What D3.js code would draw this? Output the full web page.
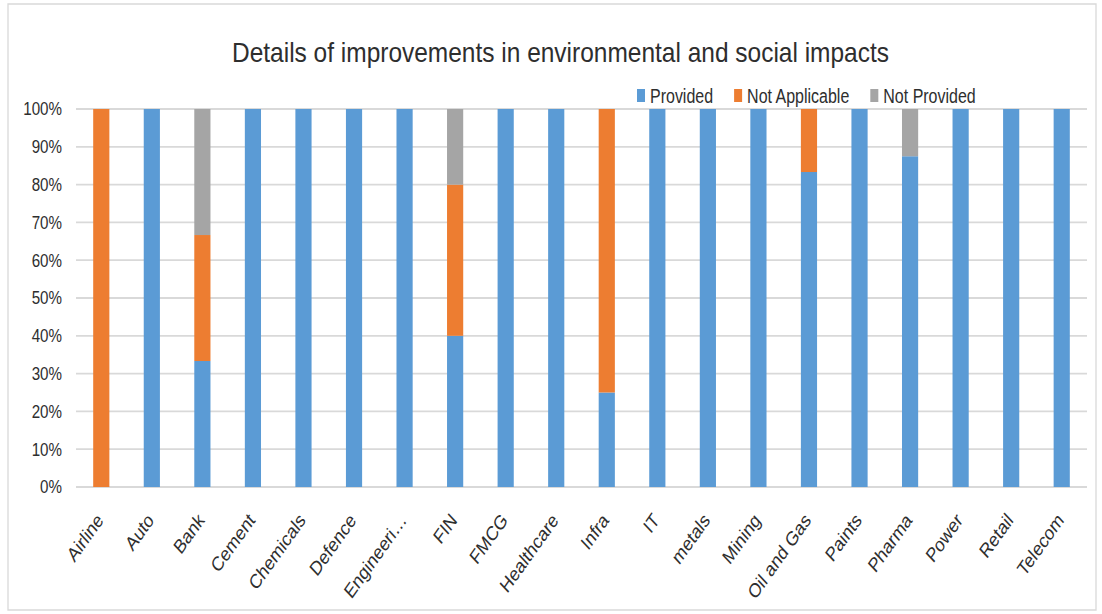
<!DOCTYPE html>
<html>
<head>
<meta charset="utf-8">
<script src="https://cdn.jsdelivr.net/npm/d3@7"></script>
<style>
  body { margin: 0; background: #fff; }
  svg text { font-family: "Liberation Sans", Arial, sans-serif; fill: #2e2e2e; }
</style>
</head>
<body>
<svg id="chart" width="1102" height="614"></svg>
<script>
// Sectors and the share of companies in each reporting status (percent)
const categories = ["Airline", "Auto", "Bank", "Cement", "Chemicals", "Defence", "Engineeri…", "FIN", "FMCG", "Healthcare",
                    "Infra", "IT", "metals", "Mining", "Oil and Gas", "Paints", "Pharma", "Power", "Retail", "Telecom"];
const provided      = [0, 100, 33.33, 100, 100, 100, 100, 40, 100, 100, 25, 100, 100, 100, 83.33, 100, 87.5, 100, 100, 100];
const notApplicable = [100, 0, 33.33, 0, 0, 0, 0, 40, 0, 0, 75, 0, 0, 0, 16.67, 0, 0, 0, 0, 0];
const notProvided   = [0, 0, 33.34, 0, 0, 0, 0, 20, 0, 0, 0, 0, 0, 0, 0, 0, 12.5, 0, 0, 0];
const seriesNames   = ["Provided", "Not Applicable", "Not Provided"];
const seriesColors  = ["#5b9bd5", "#ed7d31", "#a5a5a5"];
const yTickValues   = [0, 10, 20, 30, 40, 50, 60, 70, 80, 90, 100];
const yTickLabels   = ["0%", "10%", "20%", "30%", "40%", "50%", "60%", "70%", "80%", "90%", "100%"];
const titleText     = "Details of improvements in environmental and social impacts";

// The whole drawing is laid out in a wider space and squeezed horizontally,
// giving the narrow letterforms of the chart's typeface.
const K = 0.82;
const sx = v => v / K;

const svg = d3.select("#chart");
const root = svg.append("g").attr("transform", `scale(${K},1)`);

const rows = categories.map((c, i) => ({
  category: c,
  "Provided": provided[i],
  "Not Applicable": notApplicable[i],
  "Not Provided": notProvided[i]
}));
const stacked = d3.stack().keys(seriesNames)(rows);

const x = d3.scaleBand()
  .domain(categories)
  .range([sx(76), sx(1087)])
  .paddingInner(0.68)
  .paddingOuter(0.34);

const y = d3.scaleLinear().domain([0, 100]).range([487, 109]);

const color = d3.scaleOrdinal().domain(seriesNames).range(seriesColors);

// chart frame
root.append("rect")
  .attr("x", sx(8)).attr("y", 4)
  .attr("width", sx(1088)).attr("height", 606)
  .attr("fill", "none").attr("stroke", "#d9d9d9").attr("stroke-width", 1.3)
  .attr("vector-effect", "non-scaling-stroke");

// title
root.append("text")
  .attr("x", sx(560.5)).attr("y", 62)
  .attr("text-anchor", "middle")
  .attr("font-size", 28)
  .attr("fill", "#1e1e1e")
  .attr("textLength", sx(657))
  .attr("lengthAdjust", "spacingAndGlyphs")
  .text(titleText);

// horizontal gridlines
root.append("g").selectAll("line")
  .data(yTickValues)
  .join("line")
  .attr("x1", sx(76)).attr("x2", sx(1087))
  .attr("y1", d => y(d)).attr("y2", d => y(d))
  .attr("stroke", "#d9d9d9").attr("stroke-width", 1.8);

// y axis labels
const yAxis = d3.axisLeft(y).tickValues(yTickValues).tickFormat((d, i) => yTickLabels[i]).tickSize(0).tickPadding(0);
const yAxisG = root.append("g").attr("transform", `translate(${sx(62)},0)`).call(yAxis);
yAxisG.select(".domain").remove();
yAxisG.selectAll("text")
  .attr("font-size", 18.5)
  .attr("font-family", "Liberation Sans, Arial, sans-serif")
  .attr("fill", "#2e2e2e");

// stacked bars
root.append("g").selectAll("g")
  .data(stacked)
  .join("g")
  .attr("fill", d => color(d.key))
  .selectAll("rect")
  .data(d => d)
  .join("rect")
  .attr("x", d => x(d.data.category))
  .attr("width", x.bandwidth())
  .attr("y", d => y(d[1]))
  .attr("height", d => y(d[0]) - y(d[1]));

// category labels, rotated
const xAxis = d3.axisBottom(x).tickSize(0).tickPadding(0);
const xAxisG = root.append("g").call(xAxis);
xAxisG.select(".domain").remove();
xAxisG.selectAll(".tick").attr("transform", d => `translate(${x(d) + x.bandwidth() / 2 + sx(3)},521)`);
xAxisG.selectAll("text")
  .attr("y", 0).attr("dy", 0)
  .attr("text-anchor", "end")
  .attr("transform", "rotate(-49)")
  .attr("font-size", 20)
  .attr("font-family", "Liberation Sans, Arial, sans-serif")
  .attr("fill", "#2e2e2e");

// legend
const legend = root.append("g");
let lx = sx(637);
seriesNames.forEach(name => {
  const item = legend.append("g");
  item.append("rect")
    .attr("x", lx).attr("y", 89)
    .attr("width", sx(8)).attr("height", 13)
    .attr("fill", color(name));
  const t = item.append("text")
    .attr("x", lx + sx(13)).attr("y", 103)
    .attr("font-size", 19.5)
    .text(name);
  lx += sx(13) + t.node().getComputedTextLength() + sx(21);
});
</script>
</body>
</html>
